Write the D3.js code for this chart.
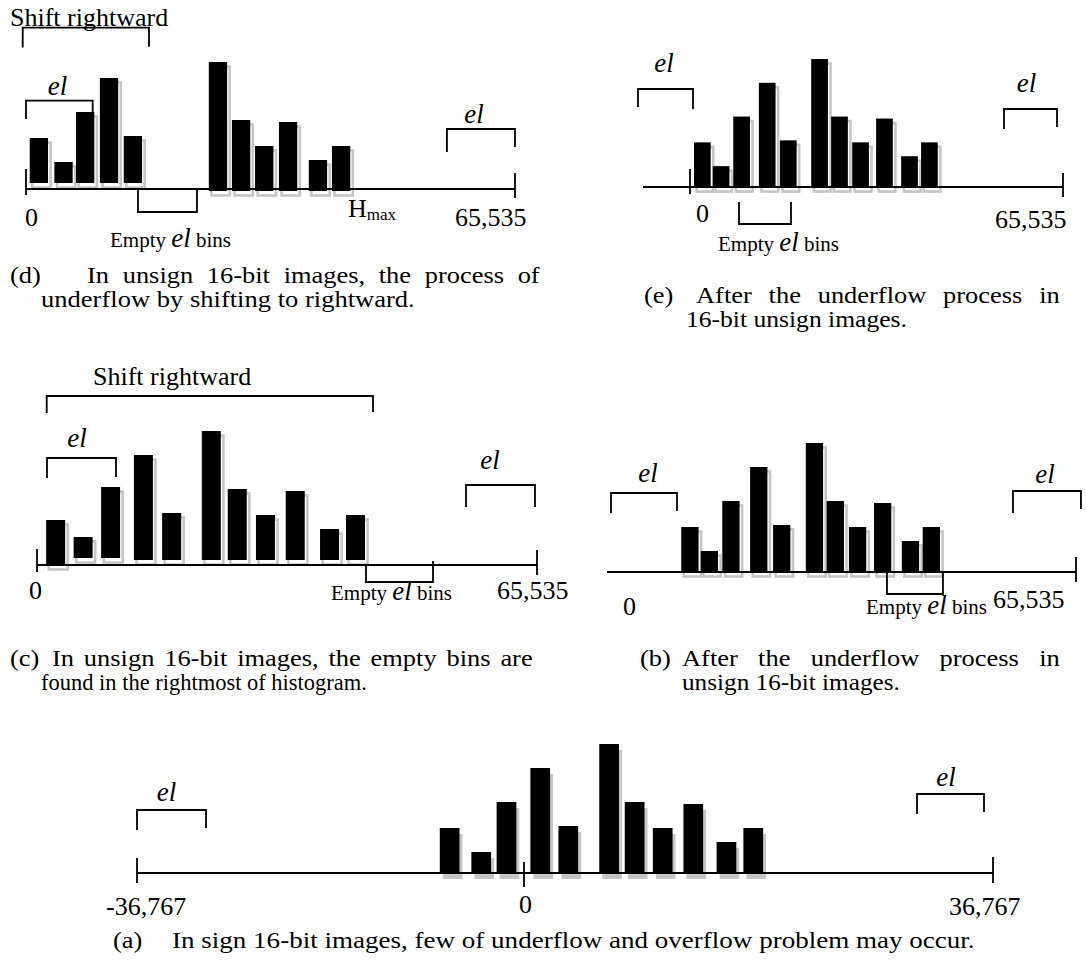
<!DOCTYPE html>
<html><head><meta charset="utf-8">
<script src="https://cdn.jsdelivr.net/npm/d3@7"></script>
<style>
body{margin:0;background:#fff}
svg{display:block}
text{font-family:"Liberation Serif","Times New Roman",serif;fill:#000}
</style>
</head><body>
<svg id="c" width="1086" height="973"></svg>
<script>
// ---------- DATA ----------
// histogram counts (same shape in every panel)
const counts = [45, 21, 71, 105, 47, 129, 71, 45, 69, 31, 45];
// gray level of the left edge of each bar, per panel
const binsD = [500, 3800, 6700, 9900, 13100, 24500, 27600, 30700, 33900, 37900, 41000];
const binsE = [700, 4000, 7600, 12100, 15800, 21300, 24800, 28500, 32700, 37100, 40600];
const binsC = [1200, 4800, 8400, 12700, 16400, 21600, 25000, 28700, 32600, 37100, 40500];
const binsB = [8800, 11600, 14700, 18700, 22000, 26700, 29700, 32900, 36500, 40500, 43500];
const binsA = [-8000, -5000, -2600, 500, 2700, 5900, 7900, 10100, 12500, 15100, 17200];
// axis ticks and labels
const unsignedTicks = [0, 65535];
const unsignedLabels = ["0", "65,535"];
const signedTicks = [-36767, 0, 36767];
const signedLabels = ["-36,767", "0", "36,767"];
// caption texts
const capD = ["(d)", "In unsign 16-bit images, the process of", "underflow by shifting to rightward."];
const capE = ["(e)", "After the underflow process in", "16-bit unsign images."];
const capC = ["(c)", "In unsign 16-bit images, the empty bins are", "found in the rightmost of histogram."];
const capB = ["(b)", "After the underflow process in", "unsign 16-bit images."];
const capA = ["(a)", "In sign 16-bit images, few of underflow and overflow problem may occur."];

// ---------- LAYOUT ----------
const panels = [
  { bins: binsD, domain: [0, 65535], range: [26, 515], base: 189, barW: 18.3, hMax: 129, hollow: true,
    raise: [6, 6, 6, 6, 6, -2, -2, -2, -2, -2, -2], axis: [0, 65535],
    ticks: unsignedTicks, labels: unsignedLabels,
    tickFmt: [{up: 20, down: 6, dx: -1, dy: 37}, {up: 16, down: 9, dx: -60, dy: 37}],
    brackets: [
      {x0: -442, x1: 16482, y: 27.7, yl: 47.5, yr: 46.7},
      {x0: 0, x1: 8938, y: 100.7, yl: 119, yr: 113},
      {x0: 56414, x1: 65535, y: 129, yl: 152, yr: 147},
      {x0: 15008, x1: 22914, y: 212, yl: 189, yr: 190}],
    els: [{x: 57.5, y: 95}, {x: 474, y: 123}],
    empty: {x: 110, y: 247}, shift: {x: 10, y: 26}, hmax: {x: 348, y: 217} },
  { bins: binsE, domain: [0, 65535], range: [690, 1063], base: 187, barW: 16.7, hMax: 128, hollow: true,
    axis: [-8258, 65535], ticks: unsignedTicks, labels: unsignedLabels,
    tickFmt: [{up: 18, down: 7, dx: 6, dy: 35}, {up: 14, down: 10, dx: -68, dy: 41}],
    brackets: [
      {x0: -9136, x1: 527, y: 89, yl: 107, yr: 109},
      {x0: 55170, x1: 64482, y: 109, yl: 129, yr: 127},
      {x0: 8609, x1: 17746, y: 224, yl: 202, yr: 202}],
    els: [{x: 664, y: 72}, {x: 1026.5, y: 92}],
    empty: {x: 718, y: 251} },
  { bins: binsC, domain: [0, 65535], range: [37, 537], base: 565, barW: 19, hMax: 129, hollow: true,
    raise: [0, 7, 7, 5, 5, 5, 5, 5, 5, 5, 5], axis: [0, 65535],
    ticks: unsignedTicks, labels: unsignedLabels,
    tickFmt: [{up: 16, down: 7, dx: -8, dy: 34}, {up: 15, down: 10, dx: -40, dy: 34}],
    brackets: [
      {x0: 1271, x1: 44040, y: 396, yl: 413, yr: 412},
      {x0: 1311, x1: 10355, y: 458, yl: 478, yr: 477},
      {x0: 56229, x1: 65273, y: 485, yl: 507, yr: 507},
      {x0: 43122, x1: 51904, y: 582, yl: 565, yr: 561}],
    els: [{x: 77, y: 447}, {x: 490, y: 469}],
    empty: {x: 331, y: 600}, shift: {x: 93, y: 385} },
  { bins: binsB, domain: [0, 65535], range: [620, 1076], base: 572, barW: 17.3, hMax: 129, hollow: true,
    axis: [-1868, 65535], ticks: unsignedTicks, labels: unsignedLabels,
    tickFmt: [{up: 0, down: 0, dx: 3, dy: 43}, {up: 15, down: 10, dx: -83, dy: 36}],
    brackets: [
      {x0: -1293, x1: 8191, y: 493, yl: 513, yr: 511},
      {x0: 56475, x1: 66246, y: 491, yl: 513, yr: 509},
      {x0: 38368, x1: 46415, y: 594, yl: 572, yr: 573}],
    els: [{x: 648, y: 482}, {x: 1045, y: 483}],
    empty: {x: 866, y: 614} },
  { bins: binsA, domain: [-36767, 0, 36767], range: [137, 524, 993], base: 873, barW: 19.7, hMax: 129, hollow: false,
    axis: [-36767, 36767], ticks: signedTicks, labels: signedLabels,
    tickFmt: [{up: 15, down: 10, dx: -31, dy: 42}, {up: 11, down: 14, dx: -5, dy: 40}, {up: 16, down: 10, dx: -44, dy: 42}],
    brackets: [
      {x0: -36767, x1: -30210, y: 810, yl: 830, yr: 828},
      {x0: 30811, x1: 36062, y: 794, yl: 814, yr: 812}],
    els: [{x: 166.5, y: 801}, {x: 946, y: 786}] }
];

const captions = [
  {lines: capD, parts: [{x0: 10, y: 283}, {x0: 87, x1: 540, y: 283, justify: true}, {x0: 41, x1: 415, y: 307}]},
  {lines: capE, parts: [{x0: 644, y: 303}, {x0: 696, x1: 1060, y: 303, justify: true}, {x0: 686, x1: 907, y: 327}]},
  {lines: capC, parts: [{x0: 10, y: 666}, {x0: 52, x1: 533, y: 666, justify: true}, {x0: 41, x1: 367, y: 690}]},
  {lines: capB, parts: [{x0: 640, y: 666}, {x0: 682, x1: 1060, y: 666, justify: true}, {x0: 682, x1: 900, y: 690}]},
  {lines: capA, parts: [{x0: 113, y: 948}, {x0: 172, x1: 975, y: 948}]}
];

// ---------- DRAW ----------
const svg = d3.select('#c');
svg.append('rect').attr('width', 1086).attr('height', 973).attr('fill', '#fff');

const ink = '#000', shade = '#c6c6c6';

panels.forEach(p => {
  const x = d3.scaleLinear().domain(p.domain).range(p.range);
  const h = d3.scaleLinear().domain([0, d3.max(counts)]).range([0, p.hMax]);
  const g = svg.append('g');
  const data = counts.map((c, i) => ({c, b: p.bins[i], r: p.raise ? p.raise[i] : 0}));

  // shadows
  const sh = g.selectAll('rect.sh').data(data).join('rect').attr('class', 'sh')
    .attr('width', p.barW)
    .attr('height', d => h(d.c));
  if (p.hollow) {
    sh.attr('x', d => x(d.b) + 2.6)
      .attr('y', d => p.base - d.r - h(d.c) + 4.5)
      .attr('fill', '#fff').attr('stroke', shade).attr('stroke-width', 2.6);
  } else {
    sh.attr('x', d => x(d.b) + 3)
      .attr('y', d => p.base - d.r - h(d.c) + 6)
      .attr('fill', shade);
  }

  // axis line
  g.append('line')
    .attr('x1', x(p.axis[0])).attr('x2', x(p.axis[1]))
    .attr('y1', p.base).attr('y2', p.base)
    .attr('stroke', ink).attr('stroke-width', 1.8);

  // bars
  g.selectAll('rect.bar').data(data).join('rect').attr('class', 'bar')
    .attr('x', d => x(d.b))
    .attr('y', d => p.base - d.r - h(d.c))
    .attr('width', p.barW)
    .attr('height', d => h(d.c))
    .attr('fill', ink);

  // ticks + labels
  p.ticks.forEach((t, i) => {
    const f = p.tickFmt[i];
    if (f.up || f.down) {
      g.append('line').attr('x1', x(t)).attr('x2', x(t))
        .attr('y1', p.base - f.up).attr('y2', p.base + f.down)
        .attr('stroke', ink).attr('stroke-width', 1.8);
    }
    g.append('text').attr('x', x(t) + f.dx).attr('y', p.base + f.dy)
      .attr('font-size', 26).text(p.labels[i]);
  });

  // brackets
  p.brackets.forEach(b => {
    const xa = x(b.x0), xb = x(b.x1);
    g.append('path')
      .attr('d', `M${xa},${b.yl}V${b.y}H${xb}V${b.yr}`)
      .attr('fill', 'none').attr('stroke', ink).attr('stroke-width', 1.8);
  });

  // el labels
  p.els.forEach(e => {
    g.append('text').attr('x', e.x).attr('y', e.y).attr('text-anchor', 'middle')
      .attr('font-size', 27).attr('font-style', 'italic').text('el');
  });

  if (p.empty) {
    const t = g.append('text').attr('x', p.empty.x).attr('y', p.empty.y).attr('font-size', 21);
    t.append('tspan').text('Empty ');
    t.append('tspan').attr('font-size', 27).attr('font-style', 'italic').text('el');
    t.append('tspan').text(' bins');
  }
  if (p.shift) {
    g.append('text').attr('x', p.shift.x).attr('y', p.shift.y).attr('font-size', 26).text('Shift rightward');
  }
  if (p.hmax) {
    const t = g.append('text').attr('x', p.hmax.x).attr('y', p.hmax.y).attr('font-size', 26);
    t.append('tspan').text('H');
    t.append('tspan').attr('font-size', 17).attr('dy', 3).text('max');
  }
});

// captions: glyphs slightly widened, justified lines get extra word spacing
const capStretch = 1.15;
captions.forEach(c => {
  c.lines.forEach((line, i) => {
    const q = c.parts[i];
    const t = svg.append('text').attr('font-size', 23).text(line);
    const w = t.node().getComputedTextLength();
    let sx = capStretch, ws = 0;
    if (q.x1) {
      const target = q.x1 - q.x0;
      const nSp = (line.match(/ /g) || []).length;
      if (q.justify && nSp) {
        sx = Math.min(capStretch, target / w);
        ws = (target / sx - w) / nSp;
      } else {
        sx = target / w;
      }
    }
    t.attr('transform', `translate(${q.x0},${q.y}) scale(${sx},1)`)
     .attr('word-spacing', ws);
  });
});
</script>
</body></html>
